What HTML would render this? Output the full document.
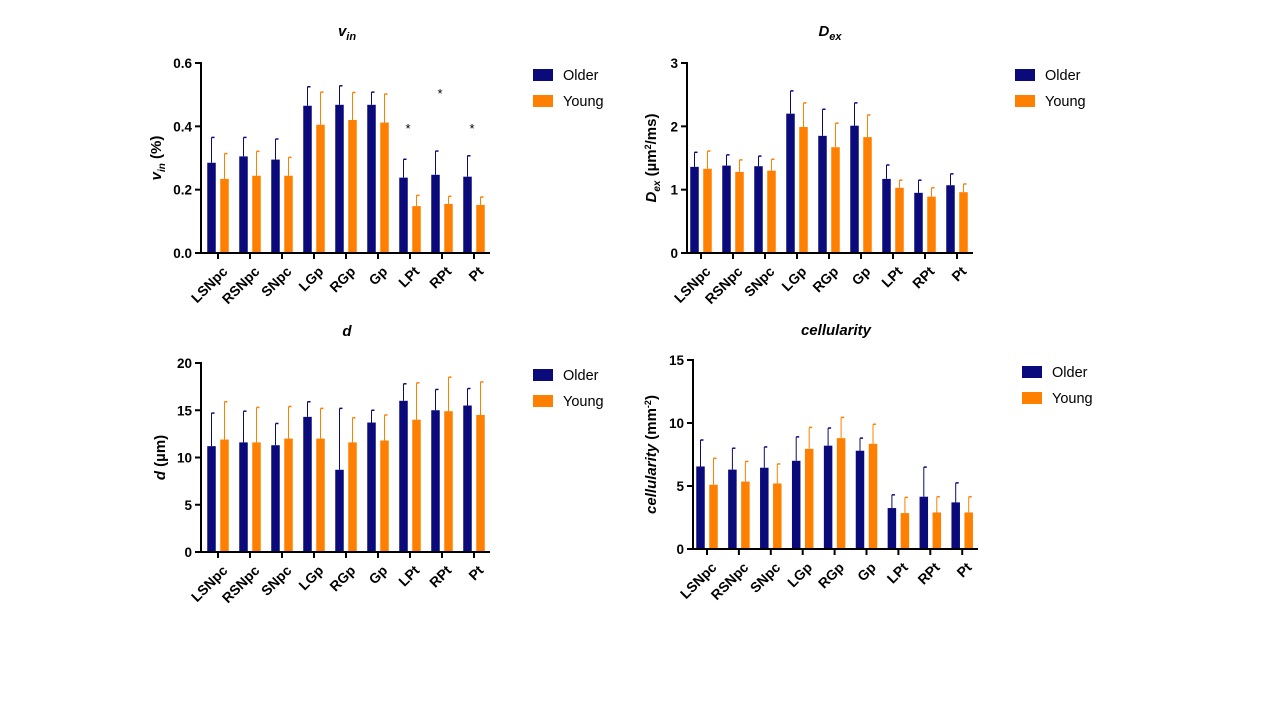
<!DOCTYPE html>
<html><head><meta charset="utf-8"><style>
body{margin:0;background:#fff;width:1267px;height:713px;overflow:hidden}
svg{font-family:"Liberation Sans",Arial,sans-serif}
</style></head><body>
<svg id="s" width="1267" height="713"></svg>
<script>
const categories=["LSNpc","RSNpc","SNpc","LGp","RGp","Gp","LPt","RPt","Pt"];
const vinOlder=[0.285,0.305,0.295,0.465,0.468,0.468,0.238,0.247,0.241];
const vinOlderErr=[0.08,0.06,0.065,0.06,0.06,0.04,0.058,0.075,0.066];
const vinYoung=[0.234,0.244,0.244,0.405,0.42,0.412,0.148,0.155,0.152];
const vinYoungErr=[0.08,0.077,0.058,0.103,0.087,0.09,0.034,0.024,0.025];
const vinTicks=["0.0","0.2","0.4","0.6"];
const dexOlder=[1.36,1.38,1.37,2.2,1.85,2.01,1.17,0.95,1.07];
const dexOlderErr=[0.23,0.17,0.16,0.36,0.42,0.36,0.22,0.2,0.18];
const dexYoung=[1.33,1.28,1.3,1.99,1.67,1.83,1.03,0.89,0.96];
const dexYoungErr=[0.28,0.19,0.18,0.38,0.38,0.35,0.12,0.14,0.13];
const dexTicks=["0","1","2","3"];
const dOlder=[11.2,11.6,11.3,14.3,8.7,13.7,16.0,15.0,15.5];
const dOlderErr=[3.5,3.3,2.3,1.6,6.5,1.3,1.8,2.2,1.8];
const dYoung=[11.9,11.6,12.0,12.0,11.6,11.8,14.0,14.9,14.5];
const dYoungErr=[4.0,3.7,3.4,3.2,2.6,2.7,3.9,3.6,3.5];
const dTicks=["0","5","10","15","20"];
const cOlder=[6.55,6.3,6.45,7.0,8.2,7.8,3.25,4.15,3.7];
const cOlderErr=[2.1,1.7,1.65,1.9,1.4,1.0,1.05,2.35,1.55];
const cYoung=[5.1,5.35,5.2,7.95,8.8,8.35,2.85,2.9,2.9];
const cYoungErr=[2.1,1.6,1.55,1.7,1.65,1.55,1.25,1.25,1.25];
const cTicks=["0","5","10","15"];
const sigMarks=[6,7,8];
const sigY=[0.405,0.515,0.405];

const NS="http://www.w3.org/2000/svg";
const svg=document.getElementById('s');
function mk(tag,attrs,parent,text){const e=document.createElementNS(NS,tag);for(const k in attrs)e.setAttribute(k,attrs[k]);if(text!==undefined)e.textContent=text;(parent||svg).appendChild(e);return e;}

function chart(cfg){
  const g=mk('g',{});
  
  
  const x0=cfg.x0,x1=cfg.x1,y0=cfg.y0,yt=cfg.yt,max=cfg.max;
  const Y=v=>y0-(v/max)*(y0-yt);
  const X=i=>cfg.c0+i*cfg.step;
  categories.forEach((c,i)=>{
    [[cfg.older,cfg.olderErr,'#0a0a7a',-6.5],[cfg.young,cfg.youngErr,'#ff8000',6.5]].forEach(([vals,errs,col,off],k)=>{
      const cx=X(i)+off, w=8.5, v=vals[i], top=Y(v+errs[i]);
      const el=mk('line',{x1:cx,x2:cx,y1:Y(v),y2:top,stroke:col,'stroke-width':1},g);
      
      
      const cap=mk('line',{x1:cx,x2:cx+3,y1:top,y2:top,stroke:col,'stroke-width':1.5},g);
      
      
      const r=mk('rect',{x:cx-w/2,y:Y(v),width:w,height:y0-Y(v),fill:col},g);
      
      
    });
    const t=mk('line',{x1:X(i),x2:X(i),y1:y0,y2:y0+6,stroke:'#000','stroke-width':2},g);
    
    
    const lx=X(i)+3,ly=y0+12;
    const lab=mk('text',{x:lx,y:ly,'font-size':14,'font-weight':'bold','text-anchor':'end',transform:`rotate(-45 ${lx} ${ly})`,'dominant-baseline':'hanging'},g,c);
    
    
  });
  const ya=mk('line',{x1:x0,x2:x0,y1:yt-1,y2:y0+1,stroke:'#000','stroke-width':2},g);
  
  const xa=mk('line',{x1:x0-1,x2:x1,y1:y0,y2:y0,stroke:'#000','stroke-width':2},g);
  
  cfg.ticks.forEach((t,i)=>{
    const yy=Y(parseFloat(t));
    const tl=mk('line',{x1:x0-6,x2:x0,y1:yy,y2:yy,stroke:'#000','stroke-width':2},g);
    
    const tt=mk('text',{x:x0-9,y:yy+5,'font-size':13.5,'font-weight':'bold','text-anchor':'end'},g,t);
    
  });
  const ti=mk('text',{x:cfg.tx,y:cfg.ty,'font-size':15,'font-weight':'bold','font-style':'italic','text-anchor':'middle'},g);
  ti.innerHTML=cfg.title;
  
  const cy=(y0+yt)/2, yx=cfg.ytx;
  const yl=mk('text',{x:yx,y:cy,'font-size':15,'font-weight':'bold','text-anchor':'middle',transform:`rotate(-90 ${yx} ${cy})`},g);
  yl.innerHTML=cfg.ylabel;
  
  [['Older','#0a0a7a'],['Young','#ff8000']].forEach(([n,col],k)=>{
    const ly=cfg.ly+k*26;
    const le=mk('g',{},g);
    
    
    mk('rect',{x:cfg.lx,y:ly-6,width:20,height:12,fill:col},le);
    mk('text',{x:cfg.lx+30,y:ly+5,'font-size':14.5},le,n);
  });
  return {g,X,Y};
}

const a=chart({name:'vin-chart',x0:201,x1:490,y0:253,yt:63,max:0.6,c0:218,step:32,older:vinOlder,olderErr:vinOlderErr,young:vinYoung,youngErr:vinYoungErr,ticks:vinTicks,title:'v<tspan font-size="11" dy="4">in</tspan>',tx:347,ty:36,ylabel:'<tspan font-style="italic">v</tspan><tspan font-style="italic" font-size="10" dy="4">in</tspan><tspan dy="-4"> (%)</tspan>',ytx:161,lx:533,ly:75});
sigMarks.forEach((ci,j)=>{
  const st=mk('text',{x:a.X(ci)-2,y:a.Y(sigY[j])+8,'font-size':13,'text-anchor':'middle'},a.g,'*');
  
  
});
chart({name:'dex-chart',x0:687,x1:973,y0:253,yt:63,max:3,c0:701,step:32,older:dexOlder,olderErr:dexOlderErr,young:dexYoung,youngErr:dexYoungErr,ticks:dexTicks,title:'D<tspan font-size="11" dy="4">ex</tspan>',tx:830,ty:36,ylabel:'<tspan font-style="italic">D</tspan><tspan font-style="italic" font-size="10" dy="4">ex</tspan><tspan dy="-4"> (µm</tspan><tspan font-size="9" dy="-5">2</tspan><tspan dy="5">/ms)</tspan>',ytx:656,lx:1015,ly:75});
chart({name:'d-chart',x0:201,x1:490,y0:552,yt:363,max:20,c0:218,step:32,older:dOlder,olderErr:dOlderErr,young:dYoung,youngErr:dYoungErr,ticks:dTicks,title:'d',tx:347,ty:336,ylabel:'<tspan font-style="italic">d</tspan> (µm)',ytx:165,lx:533,ly:375});
chart({name:'cellularity-chart',x0:693,x1:978,y0:549,yt:360,max:15,c0:707,step:31.9,older:cOlder,olderErr:cOlderErr,young:cYoung,youngErr:cYoungErr,ticks:cTicks,title:'cellularity',tx:836,ty:335,ylabel:'<tspan font-style="italic">cellularity</tspan> (mm<tspan font-size="9" dy="-5">-2</tspan><tspan dy="5">)</tspan>',ytx:656,lx:1022,ly:372});
</script>
</body></html>
